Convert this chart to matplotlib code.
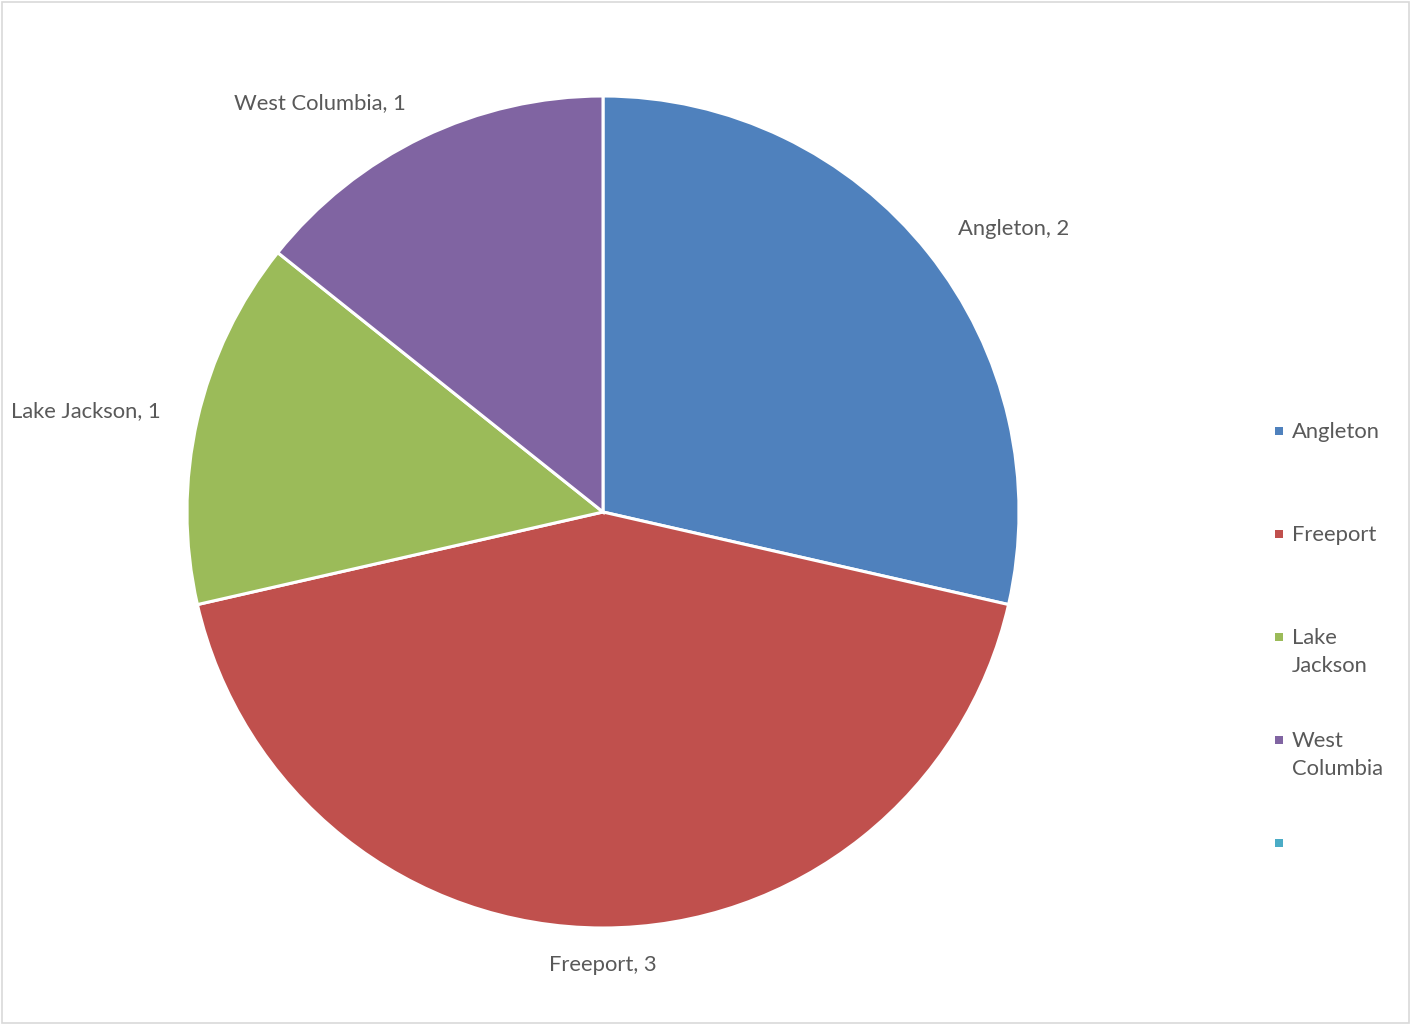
import matplotlib
matplotlib.use("Agg")
import matplotlib.pyplot as plt
from matplotlib.patches import Rectangle

categories = ["Angleton", "Freeport", "Lake Jackson", "West Columbia"]
values = [2, 3, 1, 1]
colors = ["#4F81BD", "#C0504D", "#9BBB59", "#8064A2"]
legend_labels = ["Angleton", "Freeport", "Lake\nJackson", "West\nColumbia", ""]
legend_colors = ["#4F81BD", "#C0504D", "#9BBB59", "#8064A2", "#4BACC6"]

W, H = 1410, 1024
fig = plt.figure(figsize=(W / 100, H / 100), dpi=100)
plt.rcParams['font.family'] = ['Lato', 'DejaVu Sans']
txt_color = "#595959"
fs = 15.8

R = 416.0
cx, cy = 603.0, 512.0
lim = 1.2
side = 2 * lim * R
ax = fig.add_axes([(cx - side / 2) / W, (H - cy - side / 2) / H, side / W, side / H])

labels = [f"{c}, {v}" for c, v in zip(categories, values)]
wedges, texts = ax.pie(values, labels=labels, colors=colors, startangle=90,
                       counterclock=False, labeldistance=1.09,
                       wedgeprops=dict(edgecolor="white", linewidth=2.2),
                       textprops=dict(color=txt_color, fontsize=fs))
for t in texts:
    x, y = t.get_position()
    if abs(x) < 0.05:
        t.set_ha("center")
ax.set_xlim(-lim, lim)
ax.set_ylim(-lim, lim)
ax.set_aspect("equal")
ax.axis("off")

# legend
lx_marker = 1279
lx_text = 1292
ly0 = 431
lstep = 103
msz = 8
for i, (lab, col) in enumerate(zip(legend_labels, legend_colors)):
    y = ly0 + i * lstep
    fig.patches.append(Rectangle(((lx_marker - msz / 2) / W, (H - y - msz / 2) / H),
                                 msz / W, msz / H, transform=fig.transFigure,
                                 facecolor=col, edgecolor="none"))
    if lab:
        fig.text(lx_text / W, (H - y + 9) / H, lab, color=txt_color, fontsize=fs,
                 ha="left", va="top", linespacing=1.5)

# border
fig.patches.append(Rectangle((1.5 / W, 1.5 / H), (W - 3) / W, (H - 3) / H,
                             transform=fig.transFigure, facecolor="none",
                             edgecolor="#D9D9D9", linewidth=1.2))

fig.savefig("out.png", dpi=100)
